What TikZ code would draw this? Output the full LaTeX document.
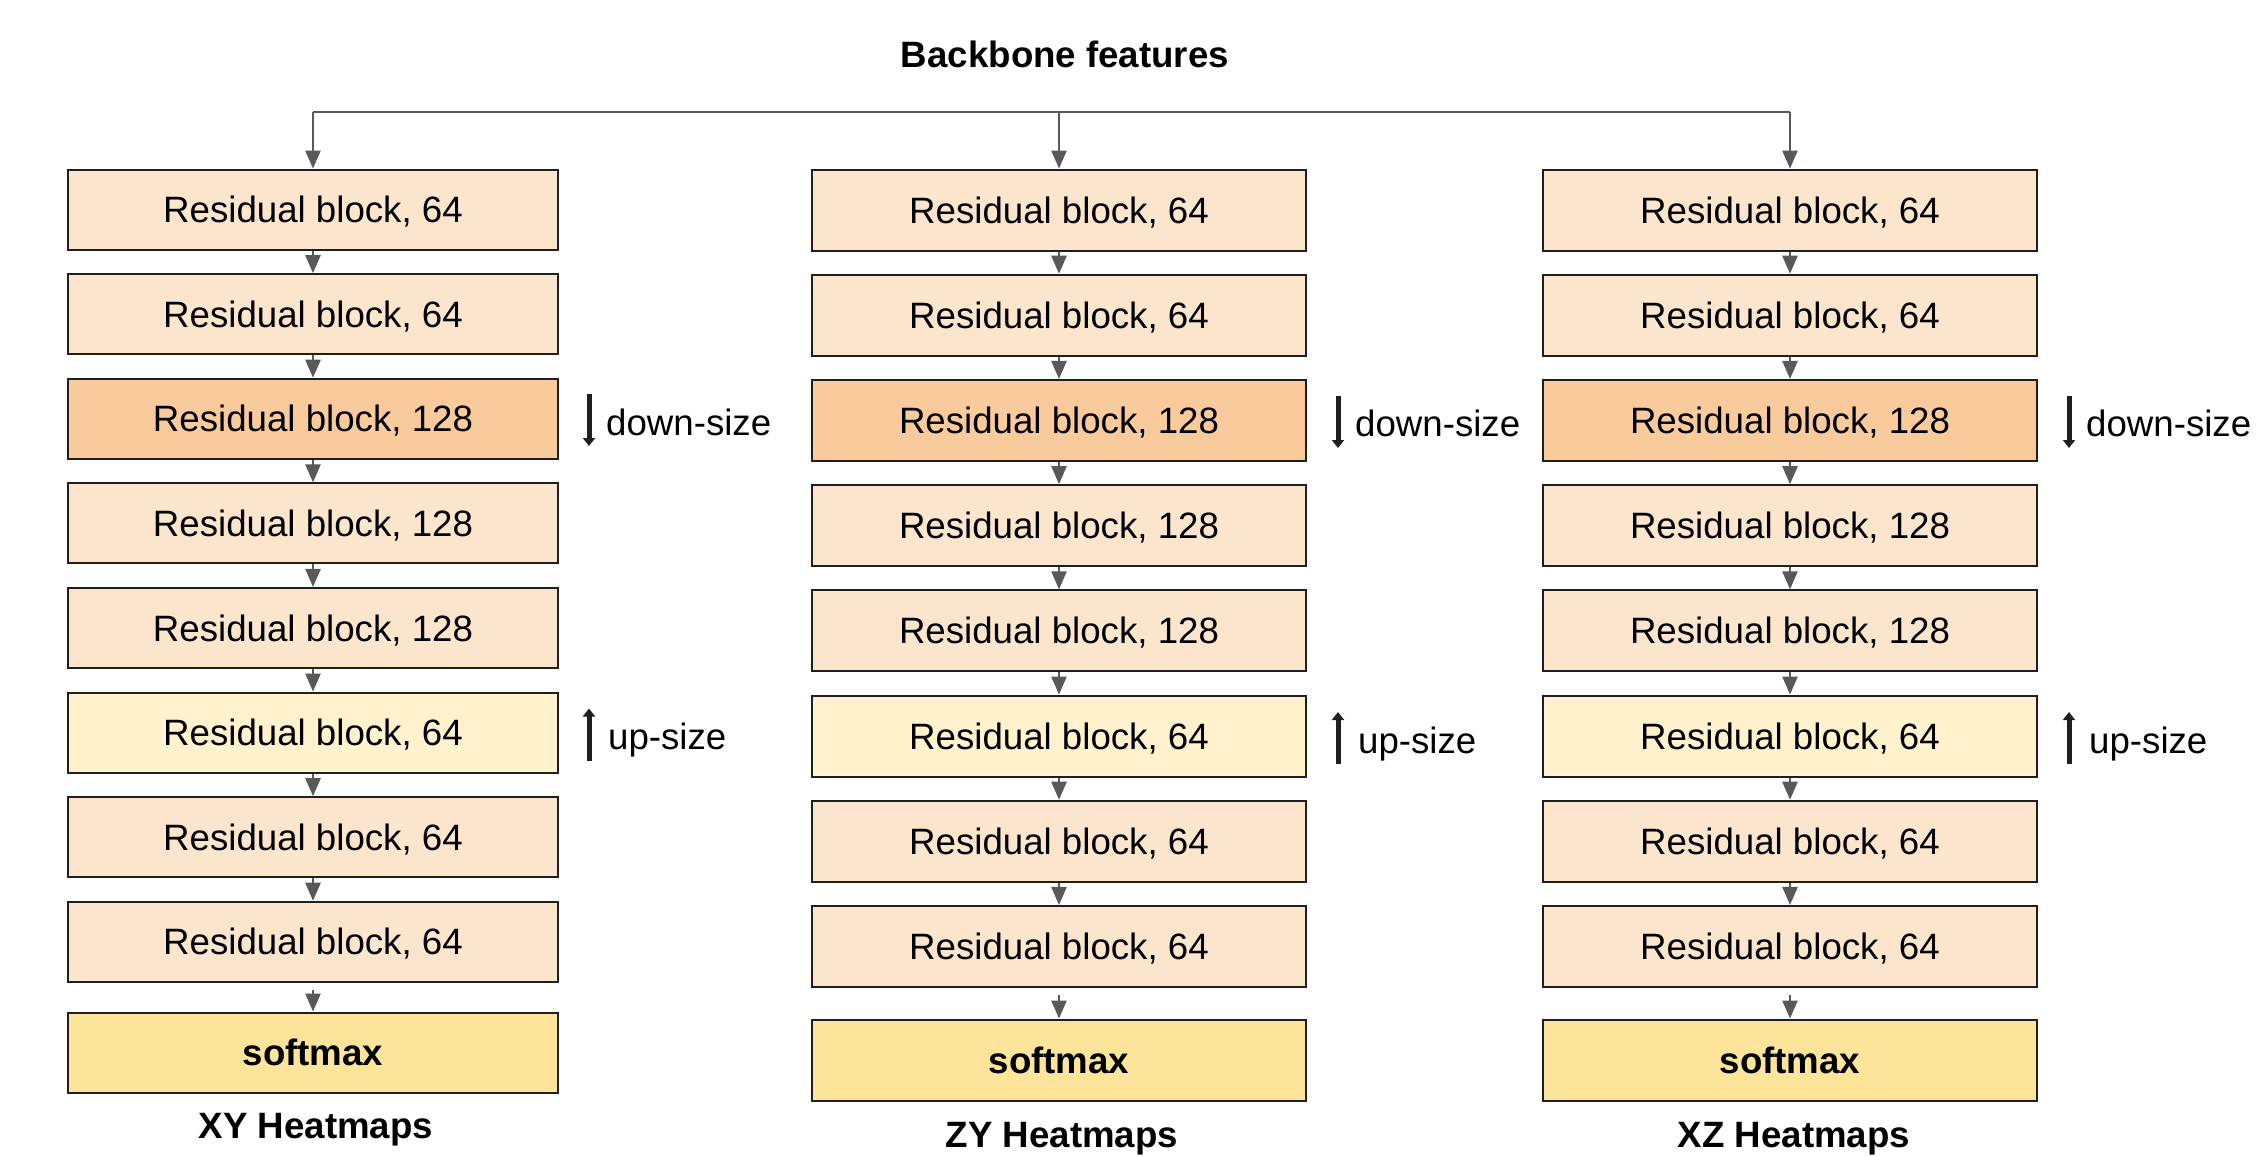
\documentclass[tikz,border=0pt]{standalone}
\usepackage{fontspec}
\setmainfont{Liberation Sans}
\usetikzlibrary{arrows.meta}
\definecolor{rbA}{HTML}{FCE5CD}
\definecolor{rbB}{HTML}{F9CB9C}
\definecolor{rbC}{HTML}{FFF2CC}
\definecolor{smx}{HTML}{FCE59A}
\definecolor{conncol}{HTML}{595959}
\begin{document}
\begin{tikzpicture}[x=0.3pt,y=-0.3pt,
  txt/.style={font=\fontsize{11}{13}\selectfont, inner sep=0pt},
  boldtxt/.style={font=\fontsize{11}{13}\selectfont\bfseries, inner sep=0pt},
  blk/.style={rectangle, draw=black!88, line width=0.6pt, inner sep=0pt,
    text height=7.9pt, text depth=0pt, font=\fontsize{11}{13}\selectfont},
  blkL/.style={blk, minimum width=147pt, minimum height=24pt},
  blkM/.style={blk, minimum width=148.2pt, minimum height=24.3pt},
  smbox/.style={fill=smx, font=\fontsize{11}{13}\selectfont\bfseries},
  conn/.style={draw=conncol, line width=0.45pt, -{Triangle[length=5.4pt,width=4.6pt]}},
  connline/.style={draw=conncol, line width=0.45pt},
  szarrow/.style={draw=black!88, line width=1.5pt, -{Triangle[length=2.4pt,width=3.6pt]}}
]
\useasboundingbox (0,0) rectangle (2266,1156);

% title
\node[boldtxt, anchor=base] (title) at (1065,67) {Backbone features};

% left column
\foreach \i/\n/\c in {1/64/rbA,2/64/rbA,3/128/rbB,4/128/rbA,5/128/rbA,6/64/rbC,7/64/rbA,8/64/rbA}{
  \node[blkL, fill=\c] (l\i) at (313,{209.5+(\i-1)*104.6}) {Residual block, \n};
}
\node[blkL, smbox] (ls) at (313,1052.5) {softmax};

% middle column
\foreach \i/\n/\c in {1/64/rbA,2/64/rbA,3/128/rbB,4/128/rbA,5/128/rbA,6/64/rbC,7/64/rbA,8/64/rbA}{
  \node[blkM, fill=\c] (m\i) at (1059,{210+(\i-1)*105.2}) {Residual block, \n};
}
\node[blkM, smbox] (ms) at (1059,1060) {softmax};

% right column
\foreach \i/\n/\c in {1/64/rbA,2/64/rbA,3/128/rbB,4/128/rbA,5/128/rbA,6/64/rbC,7/64/rbA,8/64/rbA}{
  \node[blkM, fill=\c] (r\i) at (1790,{210+(\i-1)*105.2}) {Residual block, \n};
}
\node[blkM, smbox] (rs) at (1790,1060) {softmax};

% connectors between blocks
\foreach \i in {1,...,7}{
  \pgfmathtruncatemacro{\j}{\i+1}
  \draw[conn] (l\i) -- (l\j);
  \draw[conn] (m\i) -- (m\j);
  \draw[conn] (r\i) -- (r\j);
}
\draw[conn, shorten <=2.2pt] (l8) -- (ls);
\draw[conn, shorten <=2.2pt] (m8) -- (ms);
\draw[conn, shorten <=2.2pt] (r8) -- (rs);

% backbone distribution
\coordinate (topL) at (313,112);
\coordinate (topM) at (1059,112);
\coordinate (topR) at (1790,112);
\draw[connline] (topL) -- (topR);
\draw[conn] (topL) -- (l1);
\draw[conn] (topM) -- (m1);
\draw[conn] (topR) -- (r1);

% down-size / up-size markers
\coordinate (ldA) at (589,394);   \coordinate (ldB) at (589,446);
\coordinate (luA) at (589,760.5); \coordinate (luB) at (589,708.5);
\coordinate (mdA) at (1338,396);  \coordinate (mdB) at (1338,448);
\coordinate (muA) at (1338,764);  \coordinate (muB) at (1338,712);
\coordinate (rdA) at (2069,396);  \coordinate (rdB) at (2069,448);
\coordinate (ruA) at (2069,764);  \coordinate (ruB) at (2069,712);
\draw[szarrow] (ldA) -- (ldB);
\draw[szarrow] (luA) -- (luB);
\draw[szarrow] (mdA) -- (mdB);
\draw[szarrow] (muA) -- (muB);
\draw[szarrow] (rdA) -- (rdB);
\draw[szarrow] (ruA) -- (ruB);
\node[txt, anchor=base west] (ldT) at (605.5,435) {down-size};
\node[txt, anchor=base west] (luT) at (607.5,749.5) {up-size};
\node[txt, anchor=base west] (mdT) at (1354.5,436.5) {down-size};
\node[txt, anchor=base west] (muT) at (1357.5,753) {up-size};
\node[txt, anchor=base west] (rdT) at (2085.5,436.5) {down-size};
\node[txt, anchor=base west] (ruT) at (2088.5,753) {up-size};

% bottom labels
\node[boldtxt, anchor=base] (xy) at (316,1138) {XY Heatmaps};
\node[boldtxt, anchor=base] (zy) at (1062,1147) {ZY Heatmaps};
\node[boldtxt, anchor=base] (xz) at (1794,1147) {XZ Heatmaps};
\end{tikzpicture}
\end{document}
